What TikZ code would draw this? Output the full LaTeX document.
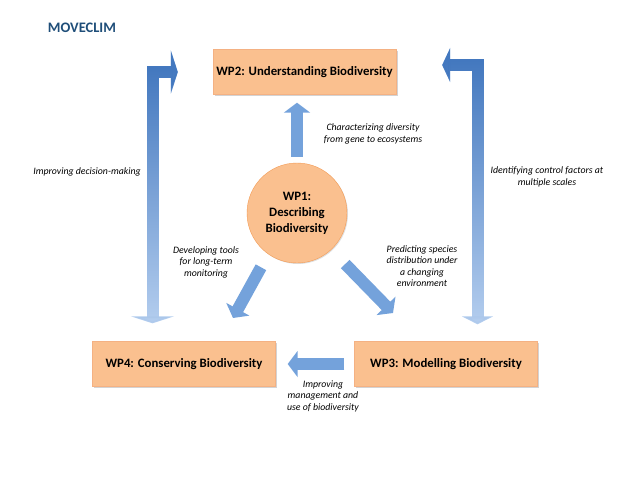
\documentclass[tikz,border=0pt]{standalone}
\usepackage{fontspec}
\setmainfont{Carlito}
\usetikzlibrary{arrows.meta,shadows,fadings}
\definecolor{wpfill}{HTML}{FAC08F}
\definecolor{wpline}{HTML}{F4B183}
\definecolor{wpring}{HTML}{F39B55}
\definecolor{arrdark}{HTML}{4378BF}
\definecolor{arrlight}{HTML}{B7D0F0}
\definecolor{arrmid}{HTML}{74A2DB}
\definecolor{titleblue}{HTML}{1F4E79}
\tikzset{
  wpbox/.style={draw=wpline,fill=wpfill,minimum width=183pt,minimum height=45pt,inner sep=1pt,
    font=\bfseries\fontsize{12.8}{14}\selectfont,drop shadow={shadow xshift=1.5pt,shadow yshift=-1.5pt,opacity=.35}},
  wpcirc/.style={circle,draw=wpring,fill=wpfill,minimum size=100pt,inner sep=0pt,align=center,
    font=\bfseries\fontsize{12.8}{16}\selectfont,drop shadow={shadow xshift=1pt,shadow yshift=-1pt,opacity=.25}},
  note/.style={align=center,font=\itshape\fontsize{9.8}{11.5}\selectfont},
  smallarr/.style={draw=arrmid,line width=12pt,-{Triangle[width=26pt,length=10pt]}},
  bigarr/.style={line width=12pt,line join=miter,{Triangle[width=43pt,length=7pt]}-{Triangle[width=43pt,length=7pt]}},
}
\begin{document}
\begin{tikzpicture}[x=1pt,y=-1pt]
\useasboundingbox (0,0) rectangle (640,480);
\node[font=\bfseries\fontsize{14.5}{16}\selectfont,text=titleblue] (title) at (82,28) {MOVECLIM};
\node[wpbox] (wp2) at (304.5,72) {WP2: Understanding Biodiversity};
\node[wpbox] (wp4) at (184,364) {WP4: Conserving Biodiversity};
\node[wpbox] (wp3) at (446,364) {WP3: Modelling Biodiversity};
\node[wpcirc] (wp1) at (297,213) {WP1:\\Describing\\Biodiversity};
\coordinate (d4) at (233,318);
\coordinate (d3) at (393,313);
\draw[smallarr,shorten <=6pt,shorten >=8pt] (wp1.north) -- (wp1.north |- wp2.south);
\draw[smallarr,shorten <=15pt] (wp1.235) -- (d4);
\draw[smallarr,shorten <=20pt] (wp1.313) -- (d3);
\draw[smallarr,shorten <=10pt,shorten >=12pt] (wp3.west) -- (wp4.east);
\draw[bigarr,draw=arrlight] ([xshift=-35pt]wp2.west) -| ([xshift=-31.5pt,yshift=18pt]wp4.north);
\draw[bigarr,draw=arrdark,path fading=south] ([xshift=-35pt]wp2.west) -| ([xshift=-31.5pt,yshift=18pt]wp4.north);
\draw[bigarr,draw=arrlight,{Triangle[width=34pt,length=8pt]}-{Triangle[width=31pt,length=8pt]}] ([xshift=46pt,yshift=7pt]wp2.east) -| ([xshift=31.5pt,yshift=17pt]wp3.north);
\draw[bigarr,draw=arrdark,path fading=south,{Triangle[width=34pt,length=8pt]}-{Triangle[width=31pt,length=8pt]}] ([xshift=46pt,yshift=7pt]wp2.east) -| ([xshift=31.5pt,yshift=17pt]wp3.north);
\node[note] (n12) at (373,134) {Characterizing diversity\\from gene to ecosystems};
\node[note] (n24) at (87,172) {Improving decision-making};
\node[note] (n32) at (547,177) {Identifying control factors at\\multiple scales};
\node[note] (n14) at (206,262) {Developing tools\\for long-term\\monitoring};
\node[note] (n13) at (422,266) {Predicting species\\distribution under\\a changing\\environment};
\node[note] (n34) at (323,396) {Improving\\management and\\use of biodiversity};
\end{tikzpicture}
\end{document}
